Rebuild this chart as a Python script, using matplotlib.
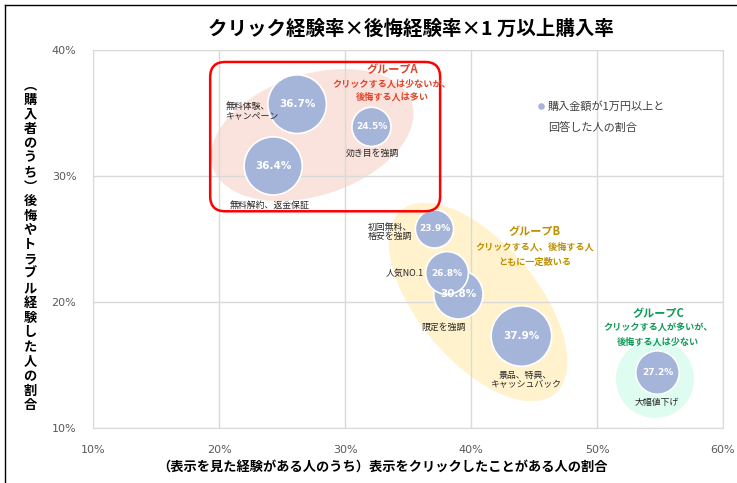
import matplotlib.pyplot as plt
from matplotlib.patches import Ellipse, FancyBboxPatch
from matplotlib.lines import Line2D

plt.rcParams['font.family'] = ['Noto Sans CJK JP', 'DejaVu Sans']

# data (percent)
labels = ["無料体験、\nキャンペーン", "効き目を強調", "無料解約、返金保証", "初回無料、\n格安を強調",
          "限定を強調", "人気NO.1", "景品、特典、\nキャッシュバック", "大幅値下げ"]
click_rate = [26.2, 32.1, 24.3, 37.1, 39.0, 38.1, 44.0, 54.8]
regret_rate = [35.7, 33.9, 30.8, 25.8, 20.6, 22.3, 17.3, 14.4]
buy_rate = [36.7, 24.5, 36.4, 23.9, 30.8, 26.8, 37.9, 27.2]

x_ticks = [10, 20, 30, 40, 50, 60]
y_ticks = [10, 20, 30, 40]

W, H = 737, 483
fig = plt.figure(figsize=(W / 100, H / 100), dpi=100)
ax = fig.add_axes([93 / W, 1 - 428 / H, 630 / W, 378 / H])

bubble_color = "#A5B5DA"
# bubble width proportional to value
sizes = [(1.15 * v) ** 2 for v in buy_rate]

# group shapes
ax.add_patch(Ellipse((27.4, 33.25), 16.6, 9.6, angle=18, color="#FAE3DD", zorder=0.3, lw=0))
ax.add_patch(Ellipse((40.56, 20.0), 19.0, 9.4, angle=-50, color="#FFF2CD", zorder=0.3, lw=0))
ax.add_patch(Ellipse((54.6, 13.9), 6.2, 6.2, color="#DEFCEF", zorder=0.3, lw=0))
ax.add_patch(FancyBboxPatch((19.3, 27.2), 18.25, 11.85,
                            boxstyle="round,pad=0,rounding_size=1.2",
                            fc="none", ec="#FF0000", lw=1.8, zorder=4))

ax.scatter(click_rate, regret_rate, s=sizes, color=bubble_color,
           edgecolors="white", linewidths=1.2, zorder=3)

for x, y, v in zip(click_rate, regret_rate, buy_rate):
    ax.text(x, y, f"{v}%", ha="center", va="center", color="white",
            fontsize=7.5 if v > 30 else 6.5, fontweight="bold",
            family="DejaVu Sans", zorder=5)

# bubble labels
label_pos = [(20.5, 35.15, "left"), (32.14, 31.83, "center"), (24.05, 27.7, "center"),
             (31.83, 25.56, "left"), (37.78, 18.02, "center"), (36.27, 22.3, "right"),
             (44.29, 13.81, "center"), (54.76, 12.06, "center")]
for lab, (lx, ly, ha) in zip(labels, label_pos):
    ax.text(lx, ly, lab, ha=ha, va="center", fontsize=6.4, color="#262626",
            linespacing=1.05, zorder=5)

# group annotations
groups = [
    ("#E0442A", 33.73, ["グループA", "クリックする人は少ないが、", "後悔する人は多い"]),
    ("#BF9000", 45.08, ["グループB", "クリックする人、後悔する人", "ともに一定数いる"]),
    ("#0F9A58", 54.84, ["グループC", "クリックする人が多いが、", "後悔する人は少ない"]),
]
group_y = [[38.41, 37.3, 36.27], [25.56, 24.37, 23.17], [19.05, 17.94, 16.83]]
for (col, gx, lines), ys in zip(groups, group_y):
    for i, (txt, gy) in enumerate(zip(lines, ys)):
        ax.text(gx, gy, txt, ha="center", va="center", color=col,
                fontsize=8 if i == 0 else 6.6, fontweight="bold", zorder=5)

ax.set_xlim(10, 60)
ax.set_ylim(10, 40)
ax.set_xticks(x_ticks)
ax.set_yticks(y_ticks)
ax.set_xticklabels([f"{t}%" for t in x_ticks])
ax.set_yticklabels([f"{t}%" for t in y_ticks])
ax.tick_params(length=0, labelsize=8, labelcolor="#595959", pad=12)
for lab in ax.get_xticklabels() + ax.get_yticklabels():
    lab.set_family("DejaVu Sans")
ax.grid(True, color="#D9D9D9", lw=1)
ax.set_axisbelow(True)
for sp in ax.spines.values():
    sp.set_color("#D9D9D9")

# legend
ax.scatter([0.711], [0.852], s=14, color=bubble_color, transform=ax.transAxes, zorder=5)
fig.text(548 / W, 1 - 106 / H, "購入金額が1万円以上と", fontsize=8, color="#404040", va="center")
fig.text(548 / W, 1 - 128 / H, "回答した人の割合", fontsize=8, color="#404040", va="center")

# titles
fig.text(411 / W, 1 - 29 / H, "クリック経験率×後悔経験率×1 万以上購入率",
         ha="center", va="center", fontsize=14, fontweight="bold")
fig.text(382 / W, 1 - 467 / H, "（表示を見た経験がある人のうち）表示をクリックしたことがある人の割合",
         ha="center", va="center", fontsize=9.5, fontweight="bold")
ylabel = "︵購入者のうち︶後悔やトラブル経験した人の割合"
step = 320 / (len(ylabel) - 1)
for i, ch in enumerate(ylabel):
    fig.text(30 / W, 1 - (85 + i * step) / H, ch, ha="center", va="center",
             fontsize=9.5, fontweight="bold")

# frame
fig.add_artist(Line2D([5 / W, 5 / W], [0, 1 - 5 / H], color="black", lw=1))
fig.add_artist(Line2D([5 / W, 1], [1 - 5 / H, 1 - 5 / H], color="black", lw=1))

fig.savefig("out.png", dpi=100)
